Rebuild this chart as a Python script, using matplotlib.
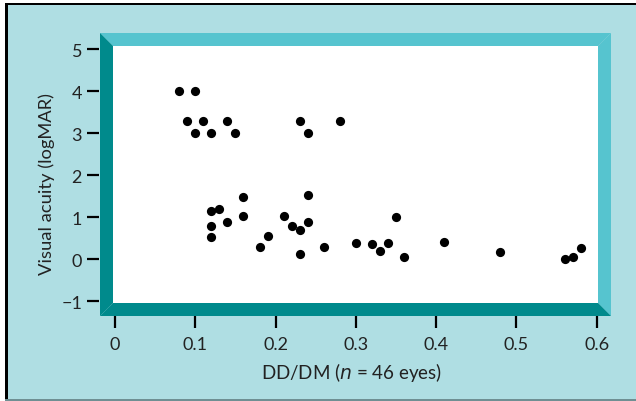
import matplotlib

matplotlib.use("Agg")
import matplotlib.pyplot as plt
from matplotlib.patches import Polygon, Rectangle

# DD/DM ratio vs visual acuity
dd_dm = [0.08, 0.10, 0.09, 0.11, 0.14, 0.10, 0.12, 0.15, 0.23, 0.24, 0.28,
         0.16, 0.24, 0.12, 0.13, 0.14, 0.16, 0.12, 0.12, 0.21, 0.22, 0.23,
         0.24, 0.18, 0.19, 0.23, 0.26, 0.30, 0.32,
         0.33, 0.34, 0.35, 0.36, 0.41, 0.48, 0.56, 0.57, 0.58]
logmar = [4.0, 4.0, 3.3, 3.3, 3.3, 3.0, 3.0, 3.0, 3.3, 3.0, 3.3,
          1.48, 1.53, 1.16, 1.19, 0.90, 1.02, 0.79, 0.52, 1.02, 0.79, 0.71,
          0.89, 0.30, 0.55, 0.13, 0.30, 0.40, 0.36,
          0.20, 0.39, 1.01, 0.05, 0.41, 0.18, 0.0, 0.06, 0.27]
x_ticks = [0, 0.1, 0.2, 0.3, 0.4, 0.5, 0.6]
x_ticklabels = ["0", "0.1", "0.2", "0.3", "0.4", "0.5", "0.6"]
y_ticks = [-1, 0, 1, 2, 3, 4, 5]

W, H = 636, 402
BG = "#afdee3"
LIGHT = "#56c4cf"
DARK = "#008a8c"

plt.rcParams["font.family"] = ["Lato", "DejaVu Sans"]

fig = plt.figure(figsize=(W / 100, H / 100), dpi=100, facecolor="white")


def px(x, y):
    return (x / W, 1 - y / H)


def box(x0, y0, x1, y1, color, z):
    fig.patches.append(Rectangle(px(x0, y1), (x1 - x0) / W, (y1 - y0) / H,
                                 transform=fig.transFigure, color=color,
                                 lw=0, zorder=z))


# outer panel with black top/left border and grey bottom rule
box(8, 6, W, 400, BG, -5)
box(5, 4, W, 6, "black", -4)
box(5, 4, 8, 400, "black", -4)
box(5, 400, W, 402, "#6f8f93", -4)

# beveled frame round the plot area
L0, T0, R0, B0 = 100, 34, 611, 317
L1, T1, R1, B1 = 113, 47, 598, 304
for pts, col in [
    ([(L0, T0), (R0, T0), (R1, T1), (L1, T1)], LIGHT),
    ([(R0, T0), (R0, B0), (R1, B1), (R1, T1)], LIGHT),
    ([(L0, T0), (L1, T1), (L1, B1), (L0, B0)], DARK),
    ([(L0, B0), (L1, B1), (R1, B1), (R0, B0)], DARK),
]:
    fig.patches.append(Polygon([px(*p) for p in pts], closed=True,
                               transform=fig.transFigure, color=col, lw=0,
                               zorder=1))

ax = fig.add_axes([L1 / W, 1 - B1 / H, (R1 - L1) / W, (B1 - T1) / H])
ax.set_facecolor("white")
ax.scatter(dd_dm, logmar, s=44, c="black", linewidths=0, zorder=3)

ax.set_xlim(-0.0025, 0.6016)
ax.set_ylim(-1.04, 5.08)
ax.set_xticks(x_ticks)
ax.set_xticklabels(x_ticklabels)
ax.set_yticks(y_ticks)

for s in ax.spines.values():
    s.set_visible(False)
ax.spines["left"].set_position(("outward", 10.1))
ax.spines["bottom"].set_position(("outward", 9.4))
ax.tick_params(axis="both", direction="out", length=8.6, width=1.6,
               color="black", labelsize=13, labelcolor="#222222")
ax.tick_params(axis="y", pad=3.6)
ax.tick_params(axis="x", pad=5.5)

ax.set_xlabel("DD/DM ($\\it{n}$ = 46 eyes)", fontsize=13.5, color="#222222")
ax.xaxis.set_label_coords(0.492, -0.265)
ax.xaxis.label.set_va("center")
ax.set_ylabel("Visual acuity (logMAR)", fontsize=13.2, color="#222222")
ax.yaxis.set_label_coords(-0.136, 0.467)
ax.yaxis.label.set_va("center")

fig.savefig("out.png", dpi=100, facecolor="white")
